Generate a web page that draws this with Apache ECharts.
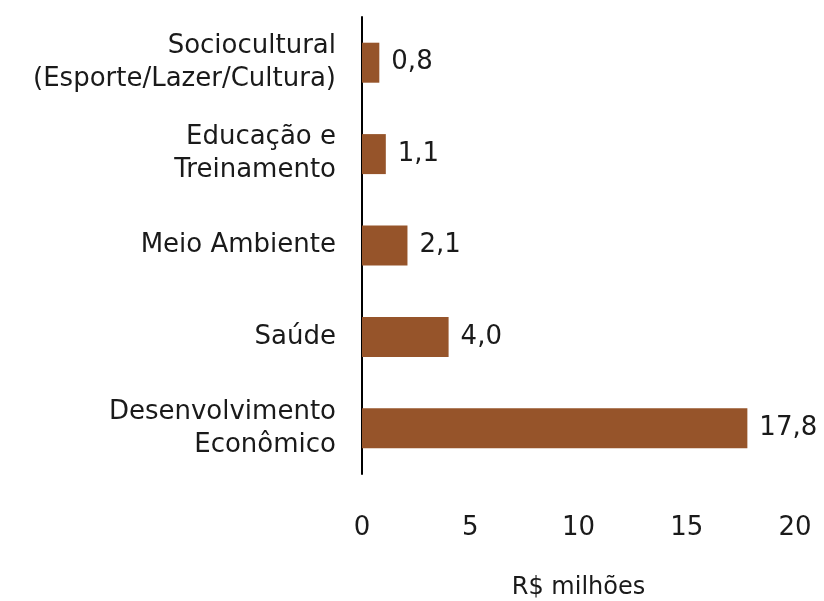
<!DOCTYPE html>
<html>
<head>
<meta charset="utf-8">
<script src="https://cdn.jsdelivr.net/npm/echarts@6/dist/echarts.min.js"></script>
<style>
  html, body { margin: 0; padding: 0; background: #fff; }
  #chart { width: 824px; height: 601px; }
</style>
</head>
<body>
<div id="chart"></div>
<script>
// categorias (de cima para baixo)
const categorias = [
  "Sociocultural\n(Esporte/Lazer/Cultura)",
  "Educação e\nTreinamento",
  "Meio Ambiente",
  "Saúde",
  "Desenvolvimento\nEconômico",
]
// valores em R$ milhões
const valores = [0.8, 1.1, 2.1, 4.0, 17.8]
// rótulos do eixo x
const ticksX = [0, 5, 10, 15, 20]

const fonte = "'DejaVu Sans', sans-serif"
const myChart = echarts.init(document.getElementById("chart"))

const option = {
  animation: false,
  textStyle: { fontFamily: fonte },
  grid: {
    left: 362,
    top: 17,
    width: 433,
    height: 457,
    outerBoundsMode: "none",
    containLabel: false,
  },
  xAxis: {
    type: "value",
    min: ticksX[0],
    max: ticksX[ticksX.length - 1],
    interval: ticksX[1] - ticksX[0],
    name: "R$ milhões",
    nameLocation: "middle",
    nameGap: 102,
    nameTextStyle: { color: "#1a1a1a", fontSize: 24, fontFamily: fonte },
    axisLine: { show: false },
    axisTick: { show: false },
    splitLine: { show: false },
    axisLabel: {
      color: "#1a1a1a",
      fontSize: 26,
      margin: 41,
      fontFamily: fonte,
    },
  },
  yAxis: {
    type: "category",
    inverse: true,
    data: categorias,
    axisLine: { show: true, lineStyle: { color: "#000", width: 2 } },
    axisTick: { show: false },
    axisLabel: {
      color: "#1a1a1a",
      fontSize: 26,
      lineHeight: 33,
      margin: 26,
      align: "right",
      fontFamily: fonte,
    },
  },
  series: [
    {
      type: "bar",
      data: valores,
      barWidth: 40,
      itemStyle: { color: "#96542A" },
      label: {
        show: true,
        position: "right",
        distance: 12,
        color: "#1a1a1a",
        fontSize: 26,
        fontFamily: fonte,
        formatter: (p) => p.value.toFixed(1).replace(".", ","),
      },
    },
  ],
}

myChart.setOption(option)
</script>
</body>
</html>
